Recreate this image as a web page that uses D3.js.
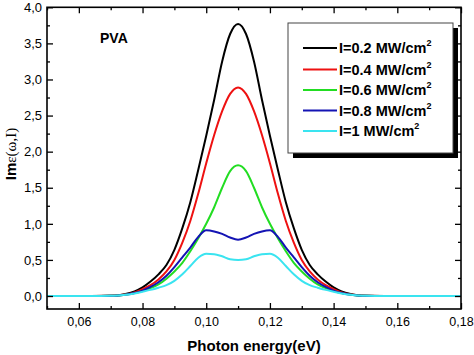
<!DOCTYPE html>
<html>
<head>
<meta charset="utf-8">
<script src="https://cdn.jsdelivr.net/npm/d3@7/dist/d3.min.js"></script>
<style>
  html, body { margin: 0; padding: 0; background: #fff; }
  svg { display: block; }
  text { font-family: Arial, "Liberation Sans", sans-serif; }
</style>
</head>
<body>
<svg id="chart" width="474" height="355"></svg>
<script>
// ---------------- DATA ----------------
const energy = [0.05, 0.06,
  0.0700, 0.0725, 0.0750, 0.0775, 0.0800, 0.0825, 0.0850, 0.0875, 0.0900, 0.0925,
  0.0950, 0.0975, 0.1000, 0.1025, 0.1050, 0.1075, 0.1100, 0.1125, 0.1150, 0.1175,
  0.1200, 0.1225, 0.1250, 0.1275, 0.1300, 0.1325, 0.1350, 0.1375, 0.1400, 0.1425,
  0.1450, 0.1475, 0.1500,
  0.16, 0.17, 0.18];

const seriesNames = ["I=0.2 MW/cm", "I=0.4 MW/cm", "I=0.6 MW/cm", "I=0.8 MW/cm", "I=1 MW/cm"];

const valsI02 = [0, 0,
  0.004, 0.012, 0.030, 0.065, 0.120, 0.200, 0.300, 0.430, 0.640, 0.940,
  1.300, 1.750, 2.220, 2.720, 3.250, 3.630, 3.770, 3.630, 3.250, 2.720,
  2.220, 1.750, 1.300, 0.940, 0.640, 0.430, 0.300, 0.200, 0.120, 0.065,
  0.030, 0.012, 0.004,
  0, 0, 0];
const valsI04 = [0, 0,
  0.003, 0.010, 0.024, 0.050, 0.095, 0.150, 0.230, 0.340, 0.500, 0.740,
  1.040, 1.420, 1.840, 2.230, 2.560, 2.800, 2.890, 2.800, 2.560, 2.230,
  1.840, 1.420, 1.040, 0.740, 0.500, 0.340, 0.230, 0.150, 0.095, 0.050,
  0.024, 0.010, 0.003,
  0, 0, 0];
const valsI06 = [0, 0,
  0.002, 0.008, 0.020, 0.040, 0.070, 0.110, 0.160, 0.240, 0.340, 0.460,
  0.620, 0.800, 1.000, 1.230, 1.500, 1.730, 1.810, 1.730, 1.500, 1.230,
  1.000, 0.800, 0.620, 0.460, 0.340, 0.240, 0.160, 0.110, 0.070, 0.040,
  0.020, 0.008, 0.002,
  0, 0, 0];
const valsI08 = [0, 0,
  0.002, 0.008, 0.020, 0.042, 0.075, 0.125, 0.190, 0.280, 0.400, 0.535,
  0.670, 0.820, 0.910, 0.895, 0.860, 0.810, 0.780, 0.810, 0.860, 0.895,
  0.910, 0.820, 0.670, 0.535, 0.400, 0.280, 0.190, 0.125, 0.075, 0.042,
  0.020, 0.008, 0.002,
  0, 0, 0];
const valsI10 = [0, 0,
  0.002, 0.008, 0.018, 0.036, 0.060, 0.085, 0.115, 0.150, 0.210, 0.300,
  0.415, 0.530, 0.585, 0.580, 0.550, 0.510, 0.500, 0.510, 0.550, 0.580,
  0.585, 0.530, 0.415, 0.300, 0.210, 0.150, 0.115, 0.085, 0.060, 0.036,
  0.018, 0.008, 0.002,
  0, 0, 0];

const seriesValues = [valsI02, valsI04, valsI06, valsI08, valsI10];
const seriesColors = ["#000000", "#ee1111", "#22dd22", "#1414b4", "#3ae4f0"];

const xTicks = [0.06, 0.08, 0.10, 0.12, 0.14, 0.16, 0.18];
const xMinorTicks = [0.05, 0.07, 0.09, 0.11, 0.13, 0.15, 0.17];
const yTicks = [0.0, 0.5, 1.0, 1.5, 2.0, 2.5, 3.0, 3.5, 4.0];
const yMinorTicks = [0.25, 0.75, 1.25, 1.75, 2.25, 2.75, 3.25, 3.75];

// ---------------- LAYOUT ----------------
const svg = d3.select("#chart");
const L = 47, R = 461, T = 7.3, B = 309;

const x = d3.scaleLinear().domain([0.05, 0.18]).range([L, R]);
const y = d3.scaleLinear().domain([-0.18, 4.0]).range([B, T]);

const fmt1 = v => d3.format(".1f")(v).replace(".", ",");
const fmt2 = v => d3.format(".2f")(v).replace(".", ",");

// lines
const line = d3.line()
  .x((d, i) => x(energy[i]))
  .y(d => y(d))
  .curve(d3.curveMonotoneX);

const plot = svg.append("g");
seriesValues.forEach((vals, k) => {
  plot.append("path")
    .attr("d", line(vals))
    .attr("fill", "none")
    .attr("stroke", seriesColors[k])
    .attr("stroke-width", 2);
});

// axes
function styleAxis(g) {
  g.select(".domain").remove();
  g.selectAll(".tick line").attr("stroke", "#000").attr("stroke-width", 1.3);
  g.selectAll("text").attr("fill", "#000");
}

svg.append("g").attr("transform", `translate(0,${B})`)
  .call(d3.axisBottom(x).tickValues(xTicks).tickFormat(fmt2).tickSize(-6).tickPadding(8))
  .call(styleAxis)
  .selectAll("text").attr("font-size", 12.5).attr("font-family", "Arial, 'Liberation Sans', sans-serif");
svg.append("g").attr("transform", `translate(0,${B})`)
  .call(d3.axisBottom(x).tickValues(xMinorTicks).tickFormat("").tickSize(-3))
  .call(styleAxis);
svg.append("g").attr("transform", `translate(0,${T})`)
  .call(d3.axisTop(x).tickValues(xTicks).tickFormat("").tickSize(-6))
  .call(styleAxis);
svg.append("g").attr("transform", `translate(0,${T})`)
  .call(d3.axisTop(x).tickValues(xMinorTicks).tickFormat("").tickSize(-3))
  .call(styleAxis);

svg.append("g").attr("transform", `translate(${L},0)`)
  .call(d3.axisLeft(y).tickValues(yTicks).tickFormat(fmt1).tickSize(-6).tickPadding(5))
  .call(styleAxis)
  .selectAll("text").attr("font-size", 13).attr("font-family", "Arial, 'Liberation Sans', sans-serif");
svg.append("g").attr("transform", `translate(${L},0)`)
  .call(d3.axisLeft(y).tickValues(yMinorTicks).tickFormat("").tickSize(-3))
  .call(styleAxis);
svg.append("g").attr("transform", `translate(${R},0)`)
  .call(d3.axisRight(y).tickValues(yTicks).tickFormat("").tickSize(-6))
  .call(styleAxis);
svg.append("g").attr("transform", `translate(${R},0)`)
  .call(d3.axisRight(y).tickValues(yMinorTicks).tickFormat("").tickSize(-3))
  .call(styleAxis);

// frame
svg.append("rect")
  .attr("x", L).attr("y", T).attr("width", R - L).attr("height", B - T)
  .attr("fill", "none").attr("stroke", "#000").attr("stroke-width", 1.6);

// PVA label
svg.append("text").attr("x", 100).attr("y", 42.5)
  .attr("font-size", 14).attr("font-weight", "bold").text("PVA");

// axis titles
svg.append("text")
  .attr("x", 254).attr("y", 351)
  .attr("text-anchor", "middle").attr("font-size", 15).attr("font-weight", "bold")
  .text("Photon energy(eV)");

const yl = svg.append("text")
  .attr("transform", "translate(16,154) rotate(-90)")
  .attr("text-anchor", "middle").attr("font-size", 15);
yl.append("tspan").attr("font-weight", "bold").text("Im");
yl.append("tspan").attr("font-family", "'Liberation Serif', 'DejaVu Serif', serif").text("ε(ω,I)");

// legend
const lg = svg.append("g");
lg.append("rect").attr("x", 293).attr("y", 28).attr("width", 165).attr("height", 130).attr("fill", "#000");
lg.append("rect").attr("x", 288).attr("y", 23).attr("width", 165).attr("height", 130)
  .attr("fill", "#fff").attr("stroke", "#444").attr("stroke-width", 1);
const rowY = [48, 69.5, 90, 110.5, 131];
seriesNames.forEach((name, k) => {
  lg.append("line").attr("x1", 303).attr("x2", 337).attr("y1", rowY[k]).attr("y2", rowY[k])
    .attr("stroke", seriesColors[k]).attr("stroke-width", 2);
  const t = lg.append("text").attr("x", 339).attr("y", rowY[k] + 5)
    .attr("font-size", 14.5).attr("font-weight", "bold");
  t.append("tspan").text(name);
  t.append("tspan").attr("font-size", 9).attr("dy", -7).text("2");
});
</script>
</body>
</html>
